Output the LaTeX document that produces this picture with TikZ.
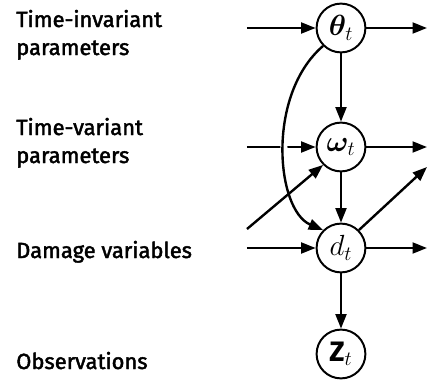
\documentclass[tikz,border=0pt]{standalone}
\usepackage{fontspec}
\setmainfont{Fira Sans}[UprightFeatures={FakeBold=2}]
\usepackage{bm}
\usetikzlibrary{automata, positioning, arrows.meta, backgrounds}
\tikzset{
->, % every connector is directed
>={Triangle[length=3.6mm, width=2.7mm]}, % filled heads
link/.style={line width=1.7pt}, % the connectors
every state/.style={line width=1.4pt, minimum size=1.22cm, inner sep=0pt, font=\fontsize{20}{24}\selectfont}, % the variables
layer/.style={anchor=base west, align=left, inner sep=0pt, font=\fontsize{15.6}{19.9}\selectfont}, % names on the left
}
\begin{document}
\begin{tikzpicture}[x=0.025cm, y=-0.025cm]
\useasboundingbox (0,0) rectangle (430,389);
% variables of slice t
\node[state] (theta) at (341,28) {$\bm{\theta}_t$};
\node[state] (omega) at (341,147) {$\bm{\omega}_t$};
\node[state] (d) at (341,248) {$d_t$};
\node[state] (z) at (341,354) {$\mathbf{Z}_t$};
% names of the layers (base = last line)
\node[layer] (tinv) at (16,55) {Time-invariant\\parameters};
\node[layer] (tvar) at (16,163) {Time-variant\\parameters};
\node[layer] (dmg) at (16,258) {Damage variables};
\node[layer] (obs) at (16,369) {Observations};
% free ends from slice t-1 and to slice t+1
\coordinate (thetain) at (247,28);
\coordinate (thetaout) at (427,28);
\coordinate (omegain) at (247,147);
\coordinate (omegaout) at (427,147);
\coordinate (din) at (247,248);
\coordinate (dout) at (427,248);
\coordinate (dlow) at (247,229);
\coordinate (dup) at (427,167);
\begin{scope}[on background layer]
\draw[link] (omegain) -- (omega);
\draw[link, preaction={draw=white, line width=5pt, -}]
    (theta.225) .. controls (266,95) and (276,210) .. (d.135);
\draw[link] (dlow) -- (omega.225);
\draw[link] (thetain) -- (theta);
\draw[link] (theta) -- (thetaout);
\draw[link] (omega) -- (omegaout);
\draw[link] (din) -- (d);
\draw[link] (d) -- (dout);
\draw[link] (d.45) -- (dup);
\draw[link] (theta) -- (omega);
\draw[link] (omega) -- (d);
\draw[link] (d) -- (z);
\end{scope}
\end{tikzpicture}
\end{document}
